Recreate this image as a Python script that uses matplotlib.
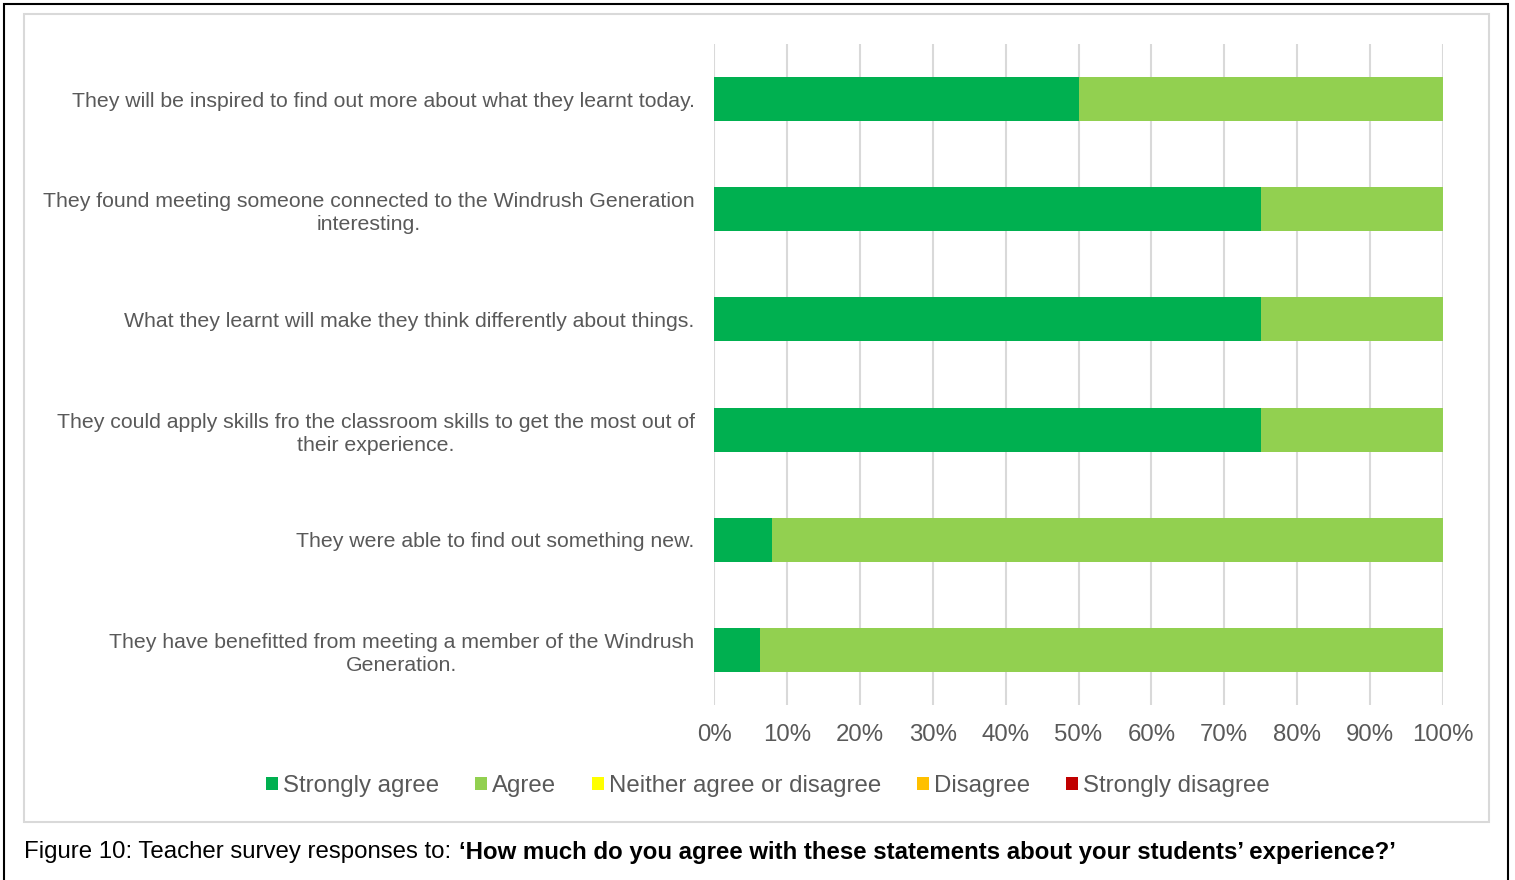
import matplotlib
matplotlib.use("Agg")
import matplotlib.pyplot as plt
from matplotlib.patches import Rectangle

plt.rcParams['font.family'] = ['Liberation Sans', 'DejaVu Sans']

statements = [
    "They will be inspired to find out more about what they learnt today.",
    "They found meeting someone connected to the Windrush Generation\ninteresting.",
    "What they learnt will make they think differently about things.",
    "They could apply skills fro the classroom skills to get the most out of\ntheir experience.",
    "They were able to find out something new.",
    "They have benefitted from meeting a member of the Windrush\nGeneration.",
]
strongly_agree = [50.0, 75.0, 75.0, 75.0, 8.0, 6.25]
agree = [50.0, 25.0, 25.0, 25.0, 92.0, 93.75]
neither = [0, 0, 0, 0, 0, 0]
disagree = [0, 0, 0, 0, 0, 0]
strongly_disagree = [0, 0, 0, 0, 0, 0]

series_names = ["Strongly agree", "Agree", "Neither agree or disagree",
                "Disagree", "Strongly disagree"]
series_values = [strongly_agree, agree, neither, disagree, strongly_disagree]
colors = ["#00B050", "#92D050", "#FFFF00", "#FFC000", "#C00000"]
x_ticks = [0, 10, 20, 30, 40, 50, 60, 70, 80, 90, 100]
x_tick_labels = [f"{v}%" for v in x_ticks]

caption_plain = "Figure 10: Teacher survey responses to: "
caption_bold = "\u2018How much do you agree with these statements about your students\u2019 experience?\u2019"

text_grey = "#595959"
W, H = 1515, 880
fig = plt.figure(figsize=(W / 100, H / 100), dpi=100)
fig.patch.set_facecolor("white")

# outer black frame and inner chart-area border
fig.add_artist(Rectangle((4 / W, -0.01), (1508 - 4) / W, (H - 4) / H + 0.01,
                         transform=fig.transFigure, fill=False,
                         edgecolor="black", linewidth=1.5))
fig.add_artist(Rectangle((24 / W, (H - 822) / H), (1489 - 24) / W, (822 - 14) / H,
                         transform=fig.transFigure, fill=False,
                         edgecolor="#D9D9D9", linewidth=1.5))

ax = fig.add_axes([714 / W, (H - 705) / H, (1443 - 714) / W, (705 - 44) / H])
ypos = list(range(len(statements)))
left = [0.0] * len(statements)
for name, vals, col in zip(series_names, series_values, colors):
    ax.barh(ypos, vals, left=left, height=0.4, color=col, label=name, zorder=3)
    left = [l + v for l, v in zip(left, vals)]

ax.set_ylim(len(statements) - 0.5, -0.5)
ax.set_xlim(0, 100)
ax.set_xticks(x_ticks)
ax.set_xticklabels(x_tick_labels)
ax.set_yticks(ypos)
ax.set_yticklabels(statements, multialignment="center", linespacing=1.28)
ax.tick_params(axis="x", length=0, pad=13.5, labelsize=17.3, labelcolor=text_grey)
ax.tick_params(axis="y", length=0, pad=14, labelsize=15.35, labelcolor=text_grey)
ax.grid(axis="x", color="#D9D9D9", linewidth=1.5, zorder=0)
ax.set_axisbelow(True)
for s in ax.spines.values():
    s.set_visible(False)

handles, labels = ax.get_legend_handles_labels()
fig.legend(handles, labels, loc="center", bbox_to_anchor=(768 / W, (H - 786) / H),
           ncol=5, frameon=False, fontsize=17.3, labelcolor=text_grey,
           handlelength=0.5, handleheight=0.5, handletextpad=0.2,
           columnspacing=1.5, borderpad=0)

t1 = fig.text(24 / W, (H - 852) / H, caption_plain, fontsize=17.3,
              color="black", va="center", ha="left")
ax.annotate(caption_bold, xy=(1, 0.5), xycoords=t1, xytext=(1, 0),
            textcoords="offset points", va="center", ha="left",
            fontsize=17.3, fontweight="bold", color="black",
            annotation_clip=False)

fig.savefig("out.png", dpi=100)
